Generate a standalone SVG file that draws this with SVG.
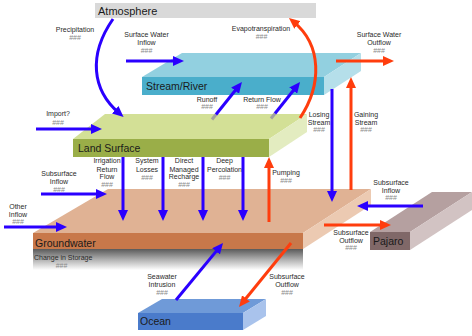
<svg xmlns="http://www.w3.org/2000/svg" width="472" height="336" viewBox="0 0 472 336">
<defs>
<style>
.lbl{font-family:"Liberation Sans",Arial,sans-serif;font-size:7px;fill:#2a2a2a;text-anchor:middle}
.num{font-family:"Liberation Sans",Arial,sans-serif;font-size:7px;fill:#8a8a8a;text-anchor:middle}
.big{font-family:"Liberation Sans",Arial,sans-serif;font-size:10.5px;fill:#1a1a1a}
.b{stroke:#2a00ff;stroke-width:3;fill:none;marker-end:url(#ab)}
.r{stroke:#ff3d0d;stroke-width:3;fill:none;marker-end:url(#ar)}
.g{stroke:#a0a0a0;stroke-width:3;fill:none}
</style>
<marker id="ab" viewBox="0 0 11 10" refX="5" refY="5" markerWidth="11" markerHeight="10" markerUnits="userSpaceOnUse" orient="auto"><path d="M0,0 L11,5 L0,10 z" fill="#2a00ff"/></marker>
<marker id="ar" viewBox="0 0 11 10" refX="5" refY="5" markerWidth="11" markerHeight="10" markerUnits="userSpaceOnUse" orient="auto"><path d="M0,0 L11,5 L0,10 z" fill="#ff3d0d"/></marker>
<linearGradient id="cis" x1="0" y1="0" x2="0" y2="1">
<stop offset="0" stop-color="#5a5a5a"/>
<stop offset="0.5" stop-color="#b0b0b0"/>
<stop offset="1" stop-color="#ffffff"/>
</linearGradient>
</defs>
<rect width="472" height="336" fill="#ffffff"/>

<g id="atmosphere">
<rect x="95" y="3" width="221" height="15" fill="#d9d9d9"/>
<text class="big" x="98" y="14.5" style="font-size:11px">Atmosphere</text>
</g>

<g id="stream">
<polygon points="182,53 361,53 324,77 142,77" fill="#92d0e0"/>
<polygon points="324,77 361,53 361,71 324,95" fill="#b5dfea"/>
<rect x="142" y="77" width="182" height="18" fill="#4aaecb"/>
<text class="big" x="146" y="90">Stream/River</text>
</g>

<g id="land">
<polygon points="105,114 307,114 269,139 73,139" fill="#d3e096"/>
<polygon points="269,139 307,114 307,132 269,157" fill="#e3ecc0"/>
<rect x="73" y="139" width="196" height="18" fill="#9aae48"/>
<text class="big" x="78" y="152">Land Surface</text>
</g>

<g id="pajaro">
<polygon points="370,232 432,192 472,192 410,232" fill="#b5a0a0"/>
<polygon points="410,232 472,192 472,210 410,250" fill="#d2c3c3"/>
<rect x="370" y="232" width="40" height="18" fill="#806868"/>
<text class="big" x="373" y="245">Pajaro</text>
</g>

<g id="groundwater">
<polygon points="108,189 371,189 303,233 33,233" fill="#e0b294"/>
<polygon points="303,233 371,189 371,205 303,249" fill="#eccab2"/>
<rect x="33" y="233" width="270" height="16" fill="#c8784a"/>
<text class="big" x="35" y="246.5">Groundwater</text>
</g>

<g id="storage">
<rect x="33" y="249" width="270" height="21" fill="url(#cis)"/>
<text class="lbl" x="34" y="259.5" style="text-anchor:start">Change in Storage</text>
<text class="num" x="61.5" y="268">###</text>
</g>

<g id="ocean">
<polygon points="162,299 266,299 243,313 138,313" fill="#6f9ad8"/>
<polygon points="243,313 266,299 266,316 243,330" fill="#a9c3ec"/>
<rect x="138" y="313" width="105" height="17" fill="#4a7bcb"/>
<text class="big" x="140" y="325">Ocean</text>
</g>

<g id="connectors">
<path class="b" d="M113,19 C88,55 92,90 119,113"/>
<line class="b" x1="126" y1="61" x2="178" y2="61"/>
<line class="g" x1="212" y1="119.5" x2="216" y2="114.5"/>
<line class="b" x1="216" y1="114.5" x2="238.2" y2="86.7"/>
<line class="g" x1="271" y1="118.5" x2="275" y2="113.5"/>
<line class="b" x1="275" y1="113.5" x2="296.3" y2="86.7"/>
<path class="r" d="M300,118 C322,85 322,45 293.6,21.8"/>
<line class="r" x1="336" y1="61" x2="388" y2="61"/>
<line class="b" x1="332" y1="89" x2="332" y2="196"/>
<line class="r" x1="351" y1="190" x2="351" y2="83"/>
<line class="b" x1="36" y1="129" x2="96" y2="129"/>
<line class="b" x1="123" y1="157" x2="123" y2="215"/>
<line class="b" x1="163" y1="157" x2="163" y2="215"/>
<line class="b" x1="203" y1="157" x2="203" y2="215"/>
<line class="b" x1="243" y1="157" x2="243" y2="215"/>
<line class="r" x1="269" y1="222" x2="269" y2="163"/>
<line class="b" x1="41" y1="194" x2="101" y2="194"/>
<line class="b" x1="4" y1="227" x2="61" y2="227"/>
<line class="b" x1="423" y1="206" x2="363" y2="206"/>
<line class="r" x1="324" y1="225" x2="385" y2="225"/>
<line class="b" x1="176" y1="300" x2="219.2" y2="247.6"/>
<line class="r" x1="291" y1="243" x2="242.8" y2="302.3"/>
</g>

<g id="labels">
<text class="lbl" x="75" y="31.5">Precipitation</text>
<text class="num" x="75" y="39.5">###</text>
<text class="lbl" x="146.5" y="37">Surface Water</text>
<text class="lbl" x="146.5" y="45">Inflow</text>
<text class="num" x="146.5" y="53">###</text>
<text class="lbl" x="261" y="30.5">Evapotranspiration</text>
<text class="num" x="261.5" y="38.5">###</text>
<text class="lbl" x="379" y="37">Surface Water</text>
<text class="lbl" x="379" y="45">Outflow</text>
<text class="num" x="379" y="52.5">###</text>
<text class="lbl" x="207" y="101.5">Runoff</text>
<text class="num" x="207" y="109">###</text>
<text class="lbl" x="262" y="101.5">Return Flow</text>
<text class="num" x="262" y="109">###</text>
<text class="lbl" x="58" y="116">Import?</text>
<text class="num" x="58" y="124.5">###</text>
<text class="lbl" x="319" y="116.5">Losing</text>
<text class="lbl" x="319" y="124.5">Stream</text>
<text class="num" x="319" y="132">###</text>
<text class="lbl" x="366" y="116.5">Gaining</text>
<text class="lbl" x="366" y="124.5">Stream</text>
<text class="num" x="366" y="132">###</text>
<text class="lbl" x="107" y="163">Irrigation</text>
<text class="lbl" x="107" y="171.5">Return</text>
<text class="lbl" x="107" y="179">Flow</text>
<text class="num" x="107" y="187">###</text>
<text class="lbl" x="147" y="163">System</text>
<text class="lbl" x="147" y="171.5">Losses</text>
<text class="num" x="147" y="179.5">###</text>
<text class="lbl" x="184" y="163">Direct</text>
<text class="lbl" x="184" y="171.5">Managed</text>
<text class="lbl" x="184" y="179">Recharge</text>
<text class="num" x="184" y="187">###</text>
<text class="lbl" x="224.5" y="163">Deep</text>
<text class="lbl" x="224.5" y="171.5">Percolation</text>
<text class="num" x="224.5" y="179.5">###</text>
<text class="lbl" x="59" y="176">Subsurface</text>
<text class="lbl" x="59" y="183.5">Inflow</text>
<text class="num" x="59" y="192">###</text>
<text class="lbl" x="286" y="175">Pumping</text>
<text class="num" x="286" y="183">###</text>
<text class="lbl" x="391" y="184.5">Subsurface</text>
<text class="lbl" x="391" y="192.5">Inflow</text>
<text class="num" x="391" y="200">###</text>
<text class="lbl" x="18" y="209">Other</text>
<text class="lbl" x="18" y="216.5">Inflow</text>
<text class="num" x="18" y="224">###</text>
<text class="lbl" x="351" y="235">Subsurface</text>
<text class="lbl" x="351" y="242.5">Outflow</text>
<text class="num" x="351" y="250">###</text>
<text class="lbl" x="162" y="279">Seawater</text>
<text class="lbl" x="162" y="287">Intrusion</text>
<text class="num" x="162" y="294.5">###</text>
<text class="lbl" x="287" y="279">Subsurface</text>
<text class="lbl" x="287" y="287">Outflow</text>
<text class="num" x="287" y="295">###</text>
</g>
</svg>
